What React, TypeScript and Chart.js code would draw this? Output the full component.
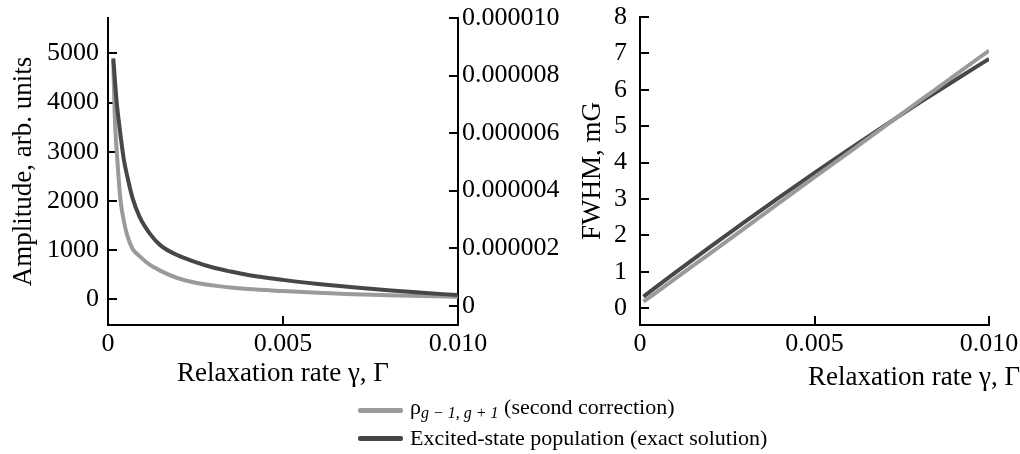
import React, { useEffect, useRef } from 'react';
import { Chart, registerables } from 'chart.js';

Chart.register(...registerables);

// ---- data ----
const gammaLeft = [0.00015, 0.00017, 0.0002, 0.00025, 0.0003, 0.00036, 0.00045, 0.00055, 0.0007, 0.0009, 0.0012, 0.0015, 0.002, 0.0025, 0.003, 0.0035, 0.004, 0.005, 0.006, 0.007, 0.008, 0.009, 0.01];
const coherenceAmplitude = [4850, 4300, 3600, 3000, 2500, 2000, 1600, 1300, 1030, 880, 700, 580, 430, 340, 285, 240, 210, 170, 135, 105, 85, 68, 53];
const populationAmplitude = [8.6e-6, 8.3e-6, 7.8e-6, 7.05e-6, 6.5e-6, 5.9e-6, 5.1e-6, 4.5e-6, 3.75e-6, 3.1e-6, 2.5e-6, 2.1e-6, 1.75e-6, 1.52e-6, 1.33e-6, 1.19e-6, 1.07e-6, 0.9e-6, 0.76e-6, 0.64e-6, 0.54e-6, 0.45e-6, 0.37e-6];

const gammaRight = [0.0001, 0.001, 0.002, 0.003, 0.004, 0.005, 0.006, 0.007, 0.008, 0.009, 0.01];
const coherenceFwhm = [0.18, 0.81, 1.5, 2.2, 2.9, 3.6, 4.29, 4.99, 5.69, 6.38, 7.08];
const populationFwhm = [0.32, 0.97, 1.68, 2.37, 3.05, 3.72, 4.37, 5.01, 5.64, 6.25, 6.85];

const xTicks = [0, 0.005, 0.01];
const xTickLabels = ['0', '0.005', '0.010'];
const amplitudeTicks = [0, 1000, 2000, 3000, 4000, 5000];
const populationTicks = [0, 0.000002, 0.000004, 0.000006, 0.000008, 0.00001];
const populationTickLabels = ['0', '0.000002', '0.000004', '0.000006', '0.000008', '0.000010'];
const fwhmTicks = [0, 1, 2, 3, 4, 5, 6, 7, 8];

const seriesLabels = ['ρg − 1, g + 1 (second correction)', 'Excited-state population (exact solution)'];
const seriesColors = ['#9a9a9a', '#474747'];
const xTitle = 'Relaxation rate γ, Γ';
const amplitudeTitle = 'Amplitude, arb. units';
const fwhmTitle = 'FWHM, mG';

// ---- styling helpers ----
const FAMILY = "'Liberation Serif', 'Times New Roman', serif";
const tickFont = { family: FAMILY, size: 26 };
const titleFont = { family: FAMILY, size: 27, lineHeight: 1, weight: 'normal' };
const TICK_LEN = -9;

const setTicks = (values: number[]) => (scale: any) => {
  scale.ticks = values.map((v) => ({ value: v }));
};
const clearPadding = (scale: any) => {
  scale.paddingTop = 0;
  scale.paddingBottom = 0;
  scale.paddingLeft = 0;
  scale.paddingRight = 0;
};
const fixWidth = (w: number) => (scale: any) => {
  scale.width = w;
  clearPadding(scale);
};
const fixHeight = (h: number) => (scale: any) => {
  scale.height = h;
  clearPadding(scale);
};
const axisGrid = { drawOnChartArea: false, tickLength: TICK_LEN, lineWidth: 2, color: '#000' };
const axisBorder = { color: '#000', width: 2 };

const points = (xs: number[], ys: number[]) => xs.map((x, i) => ({ x, y: ys[i] }));

const lineStyle = (i: number) => ({
  label: seriesLabels[i],
  showLine: true,
  borderColor: seriesColors[i],
  backgroundColor: seriesColors[i],
  borderWidth: 4,
  pointRadius: 0,
  cubicInterpolationMode: 'monotone' as const,
});

const xScale = (height: number, withTitle: boolean) => ({
  type: 'linear',
  position: 'bottom',
  min: 0,
  max: 0.01,
  afterBuildTicks: setTicks(xTicks),
  afterFit: fixHeight(height),
  grid: axisGrid,
  border: axisBorder,
  ticks: {
    font: tickFont,
    color: '#000',
    padding: 13,
    maxRotation: 0,
    callback: (v: number) => {
      const i = xTicks.findIndex((t) => Math.abs(t - v) < 1e-9);
      return i >= 0 ? xTickLabels[i] : '';
    },
  },
  title: {
    display: withTitle,
    text: xTitle,
    color: '#000',
    font: titleFont,
    padding: { top: 0, bottom: 13 },
  },
});

function LeftChart() {
  const ref = useRef<HTMLCanvasElement>(null);
  useEffect(() => {
    const chart = new Chart(ref.current as HTMLCanvasElement, {
      type: 'scatter',
      data: {
        datasets: [
          { ...lineStyle(0), data: points(gammaLeft, coherenceAmplitude), yAxisID: 'y', order: 2 },
          { ...lineStyle(1), data: points(gammaLeft, populationAmplitude), yAxisID: 'y2', order: 1 },
        ],
      },
      options: {
        animation: false,
        responsive: false,
        maintainAspectRatio: false,
        layout: { padding: { top: 18, left: 0, right: 0, bottom: 0 } },
        plugins: { legend: { display: false }, tooltip: { enabled: false }, title: { display: false } },
        scales: {
          x: xScale(75, true) as any,
          y: {
            type: 'linear',
            position: 'left',
            min: -520,
            max: 5717,
            afterBuildTicks: setTicks(amplitudeTicks),
            afterFit: fixWidth(108),
            grid: axisGrid,
            border: axisBorder,
            ticks: { font: tickFont, color: '#000', padding: 18, callback: (v: number) => String(v) },
            title: {
              display: true,
              text: amplitudeTitle,
              color: '#000',
              font: titleFont,
              padding: { top: 10, bottom: 0 },
            },
          },
          y2: {
            type: 'linear',
            position: 'right',
            min: -0.000000668,
            max: 0.00001,
            afterBuildTicks: setTicks(populationTicks),
            afterFit: fixWidth(117),
            grid: axisGrid,
            border: axisBorder,
            ticks: {
              font: tickFont,
              color: '#000',
              padding: 13,
              callback: (v: number) => {
                const i = populationTicks.findIndex((t) => Math.abs(t - v) < 1e-12);
                return i >= 0 ? populationTickLabels[i] : '';
              },
            },
          },
        },
      } as any,
    });
    return () => chart.destroy();
  }, []);
  return <canvas ref={ref} width={575} height={400} style={{ position: 'absolute', left: 0, top: 0, width: 575, height: 400 }} />;
}

function RightChart() {
  const ref = useRef<HTMLCanvasElement>(null);
  useEffect(() => {
    const chart = new Chart(ref.current as HTMLCanvasElement, {
      type: 'scatter',
      data: {
        datasets: [
          { ...lineStyle(0), data: points(gammaRight, coherenceFwhm), yAxisID: 'y', order: 1 },
          { ...lineStyle(1), data: points(gammaRight, populationFwhm), yAxisID: 'y', order: 2 },
        ],
      },
      options: {
        animation: false,
        responsive: false,
        maintainAspectRatio: false,
        layout: { padding: { top: 17, left: 0, right: 0, bottom: 0 } },
        plugins: {
          legend: { display: false },
          tooltip: { enabled: false },
          title: {
            display: true,
            position: 'bottom',
            align: 'end',
            text: xTitle,
            color: '#000',
            font: titleFont,
            padding: { top: 0, bottom: 8.5 },
          },
        },
        scales: {
          x: xScale(39.5, false) as any,
          y: {
            type: 'linear',
            position: 'left',
            min: -0.46,
            max: 8,
            afterBuildTicks: setTicks(fwhmTicks),
            afterFit: fixWidth(65),
            grid: axisGrid,
            border: axisBorder,
            ticks: { font: tickFont, color: '#000', padding: 22, callback: (v: number) => String(v) },
            title: {
              display: true,
              text: fwhmTitle,
              color: '#000',
              font: titleFont,
              padding: { top: 4.5, bottom: 0 },
            },
          },
          pad: {
            type: 'linear',
            position: 'right',
            display: true,
            afterFit: fixWidth(31),
            grid: { display: false },
            border: { display: false },
            ticks: { display: false },
          },
        },
      } as any,
    });
    return () => chart.destroy();
  }, []);
  return <canvas ref={ref} width={445} height={400} style={{ position: 'absolute', left: 575, top: 0, width: 445, height: 400 }} />;
}

function Legend() {
  const row = (i: number, top: number, content: React.ReactNode) => (
    <div style={{ position: 'absolute', left: 358, top, height: 28, display: 'flex', alignItems: 'center', whiteSpace: 'nowrap' }}>
      <div style={{ width: 45, height: 5, background: seriesColors[i], borderRadius: 2 }} />
      <div style={{ marginLeft: 7, fontFamily: FAMILY, fontSize: 22, color: '#000', lineHeight: '28px' }}>{content}</div>
    </div>
  );
  return (
    <>
      {row(0, 396, (
        <span>
          ρ<span style={{ fontStyle: 'italic', fontSize: 16, verticalAlign: '-4px' }}>g − 1, g + 1</span> (second correction)
        </span>
      ))}
      {row(1, 424, <span>{seriesLabels[1]}</span>)}
    </>
  );
}

export default function App() {
  return (
    <div style={{ position: 'absolute', left: 0, top: 0, width: 1020, height: 454, background: '#fff', overflow: 'hidden' }}>
      <LeftChart />
      <RightChart />
      <Legend />
    </div>
  );
}
